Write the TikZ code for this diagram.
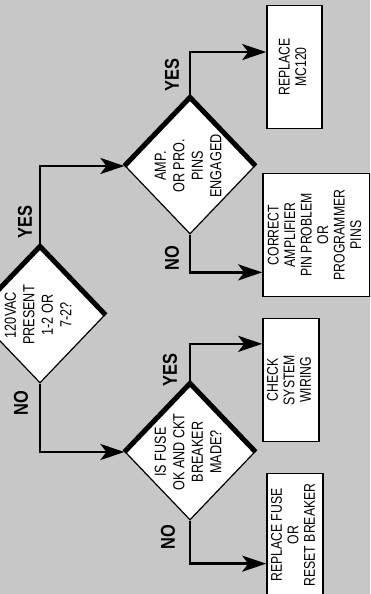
\documentclass[tikz,border=0pt]{standalone}
\usepackage{fontspec}
\usepackage{graphicx}
\usetikzlibrary{shapes.geometric,arrows.meta,calc}
\newfontfamily\condfont[FakeStretch=0.79]{Liberation Sans}
\newfontfamily\condbold[FakeStretch=0.82]{Liberation Sans Bold}
\newcommand{\vtext}[1]{\rotatebox{90}{\begin{tabular}{@{}c@{}}#1\end{tabular}}}

\begin{document}
\begin{tikzpicture}[x=1pt, y=-1pt,
    decision/.style = {draw, diamond, fill=white, line width=1.2pt, inner sep=-12pt, minimum width=130pt, minimum height=136pt, font={\condfont\fontsize{16}{18.5}\selectfont}},
    action/.style = {draw, rectangle, fill=white, line width=1.6pt, inner sep=0pt, minimum height=123pt, font={\condfont\fontsize{15.5}{16.5}\selectfont}},
    lab/.style = {inner sep=0pt, font={\condbold\fontsize{20}{20}\selectfont}},
    arr/.style = {line width=2.6pt, -{Stealth[length=24pt, width=16pt, inset=6pt]}},
    shade/.style = {line width=5pt, line join=miter, yshift=2pt}]
        \useasboundingbox (0,0) rectangle (370,594);
        \clip (0,0) rectangle (370,594);
        \fill[black!22] (0,0) rectangle (370,594);
        \node[decision] (d1) at (40,315)  {\vtext{120VAC\\PRESENT\\1-2 OR\\7-2?}};
        \node[decision] (d2) at (190,166) {\vtext{AMP.\\OR PRO.\\PINS\\ENGAGED}};
        \node[decision] (d3) at (190,452) {\vtext{IS FUSE\\OK AND CKT\\BREAKER\\MADE?}};
        \node[action, minimum width=55pt]  (b1) at (294.5,67) {\vtext{REPLACE\\MC120}};
        \node[action, minimum width=107pt] (b2) at (316.5,235) {\vtext{CORRECT\\AMPLIFIER\\PIN PROBLEM\\OR\\PROGRAMMER\\PINS}};
        \node[action, minimum width=56pt]  (b3) at (291,380) {\vtext{CHECK\\SYSTEM\\WIRING}};
        \node[action, minimum width=56pt]  (b4) at (295,535) {\vtext{REPLACE FUSE\\OR\\RESET BREAKER}};
        \node[lab] (y1) at (25,222)  {\rotatebox{90}{YES}};
        \node[lab] (n1) at (21,403)  {\rotatebox{90}{NO}};
        \node[lab] (y2) at (172,75)  {\rotatebox{90}{YES}};
        \node[lab] (n2) at (172,258) {\rotatebox{90}{NO}};
        \node[lab] (y3) at (170,370) {\rotatebox{90}{YES}};
        \node[lab] (n3) at (168,537) {\rotatebox{90}{NO}};
        \foreach \d in {d1,d2,d3}
            \draw[shade] (\d.west) -- (\d.north) -- (\d.east);
        \draw[arr] (d1.north) |- (d2.west);
        \draw[arr] (d1.south) |- (d3.west);
        \draw[arr] (d2.north) |- ($(b1.north west)!0.38!(b1.south west)$);
        \draw[arr] (d2.south) |- ($(b2.north west)!0.8!(b2.south west)$);
        \draw[arr] (d3.north) |- ($(b3.north west)!0.21!(b3.south west)$);
        \draw[arr] (d3.south) |- ($(b4.north west)!0.73!(b4.south west)$);
    \end{tikzpicture}
\end{document}
